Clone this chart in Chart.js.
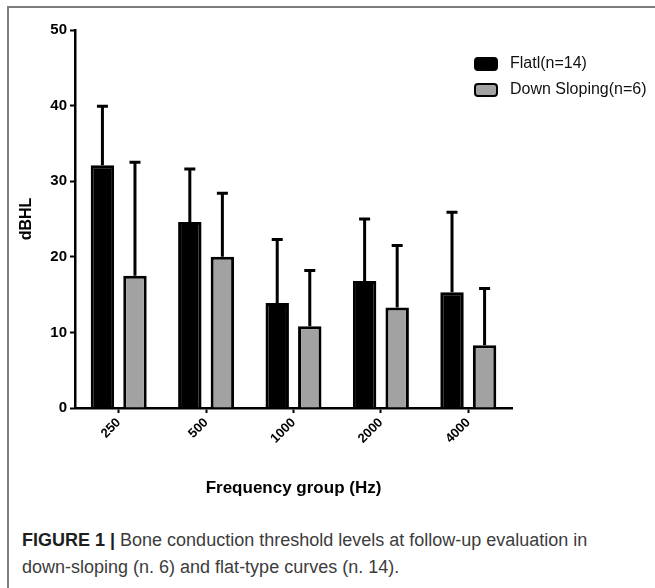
<!DOCTYPE html>
<html>
<head>
<meta charset="utf-8">
<script src="https://cdn.jsdelivr.net/npm/chart.js@4.4.1/dist/chart.umd.min.js"></script>
<style>
  html, body { margin: 0; padding: 0; background: #fff; }
  body { width: 655px; height: 588px; position: relative; overflow: hidden; }
  #frame {
    position: absolute; left: 7px; top: 6px; right: -4px; bottom: -4px;
    border-top: 2px solid #7d7d7d; border-left: 2px solid #7d7d7d;
  }
  #wrap { position: absolute; left: 0; top: 0; width: 655px; height: 520px; }
  #caption {
    position: absolute; left: 22px; top: 527px; width: 620px;
    font-family: "Liberation Sans Narrow", "Liberation Sans", Arial, sans-serif;
    font-size: 18px; line-height: 27px; color: #3c3c3c;
  }
  #caption b { color: #1e1e1e; }
</style>
</head>
<body>
<div id="frame"></div>
<div id="wrap"><canvas id="chart" width="655" height="520"></canvas></div>
<div id="caption"><b>FIGURE 1 |</b> Bone conduction threshold levels at follow-up evaluation in<br>down-sloping (n. 6) and flat-type curves (n. 14).</div>
<script>
const freqLabels = ['250', '500', '1000', '2000', '4000'];
const flatMean = [32.1, 24.6, 13.9, 16.8, 15.3];
const flatSd = [7.8, 7.0, 8.4, 8.2, 10.6];
const downMean = [17.5, 20.0, 10.8, 13.3, 8.3];
const downSd = [15.0, 8.4, 7.4, 8.2, 7.5];
const yTicks = [0, 10, 20, 30, 40, 50];

// upward-only SD whiskers with a short cap
const errorBars = {
  id: 'errorBars',
  afterDatasetsDraw(chart) {
    const { ctx } = chart;
    const y = chart.scales.y;
    chart.data.datasets.forEach((ds, i) => {
      const meta = chart.getDatasetMeta(i);
      meta.data.forEach((bar, j) => {
        const top = y.getPixelForValue(ds.data[j] + ds.sd[j]);
        ctx.save();
        ctx.strokeStyle = '#000';
        ctx.lineWidth = 3;
        ctx.beginPath();
        ctx.moveTo(bar.x, bar.y);
        ctx.lineTo(bar.x, top - 1.5);
        ctx.moveTo(bar.x - 5.5, top);
        ctx.lineTo(bar.x + 5.5, top);
        ctx.stroke();
        ctx.restore();
      });
    });
  }
};

// legend drawn to the right of the plot, overlapping the top-right corner
const sideLegend = {
  id: 'sideLegend',
  afterDraw(chart, args, opts) {
    const { ctx } = chart;
    chart.data.datasets.forEach((ds, i) => {
      const x = opts.x, y = opts.y + i * opts.rowGap;
      ctx.save();
      ctx.beginPath();
      ctx.roundRect(x + 1, y + 1, 22, 12, 3);
      ctx.fillStyle = ds.backgroundColor;
      ctx.fill();
      ctx.lineWidth = 2;
      ctx.strokeStyle = '#000';
      ctx.stroke();
      ctx.fillStyle = '#111';
      ctx.font = '16px "Liberation Sans", Arial, sans-serif';
      ctx.textBaseline = 'middle';
      ctx.fillText(ds.label, x + 36, y + 7);
      ctx.restore();
    });
  }
};

new Chart(document.getElementById('chart'), {
  type: 'bar',
  data: {
    labels: freqLabels,
    datasets: [
      {
        label: 'Flatl(n=14)',
        data: flatMean,
        sd: flatSd,
        backgroundColor: '#000000',
        borderColor: '#000',
        borderWidth: 3,
        categoryPercentage: 0.745,
        barPercentage: 0.72
      },
      {
        label: 'Down Sloping(n=6)',
        data: downMean,
        sd: downSd,
        backgroundColor: '#a2a2a2',
        borderColor: '#000',
        borderWidth: 3,
        categoryPercentage: 0.745,
        barPercentage: 0.72
      }
    ]
  },
  plugins: [errorBars, sideLegend],
  options: {
    responsive: false,
    animation: false,
    layout: { padding: { left: 0, right: 143, top: 30, bottom: 12 } },
    plugins: {
      legend: { display: false },
      tooltip: { enabled: false },
      sideLegend: { x: 474, y: 57, rowGap: 26 }
    },
    scales: {
      x: {
        offset: true,
        grid: { display: true, offset: false, drawOnChartArea: false, tickLength: 5, tickColor: '#000', tickWidth: 2 },
        border: { display: true, color: '#000', width: 2.5 },
        ticks: {
          color: '#000', padding: 2, minRotation: 45, maxRotation: 45,
          font: { family: '"Liberation Sans", Arial, sans-serif', size: 13, weight: 'bold' }
        },
        title: {
          display: true, text: 'Frequency group (Hz)', color: '#000',
          font: { family: '"Liberation Sans", Arial, sans-serif', size: 17, weight: 'bold' },
          padding: { top: 0, bottom: 9 }
        },
        afterFit(scale) {
          scale.height = 100;
          scale.paddingLeft = 0;
          scale.paddingRight = 0;
        }
      },
      y: {
        min: 0,
        max: 50,
        afterBuildTicks(scale) {
          scale.ticks = yTicks.map(v => ({ value: v }));
        },
        grid: { display: true, drawOnChartArea: false, tickLength: 5, tickColor: '#000', tickWidth: 2 },
        border: { display: true, color: '#000', width: 2.5 },
        ticks: {
          color: '#000', padding: 3,
          font: { family: '"Liberation Sans", Arial, sans-serif', size: 15, weight: 'bold' }
        },
        title: {
          display: true, text: 'dBHL', color: '#000',
          font: { family: '"Liberation Sans", Arial, sans-serif', size: 16, weight: 'bold' },
          padding: { top: 17, bottom: 0 }
        },
        afterFit(scale) {
          scale.width = 75;
          scale.paddingTop = 0;
          scale.paddingBottom = 0;
        }
      }
    }
  }
});
</script>
</body>
</html>
